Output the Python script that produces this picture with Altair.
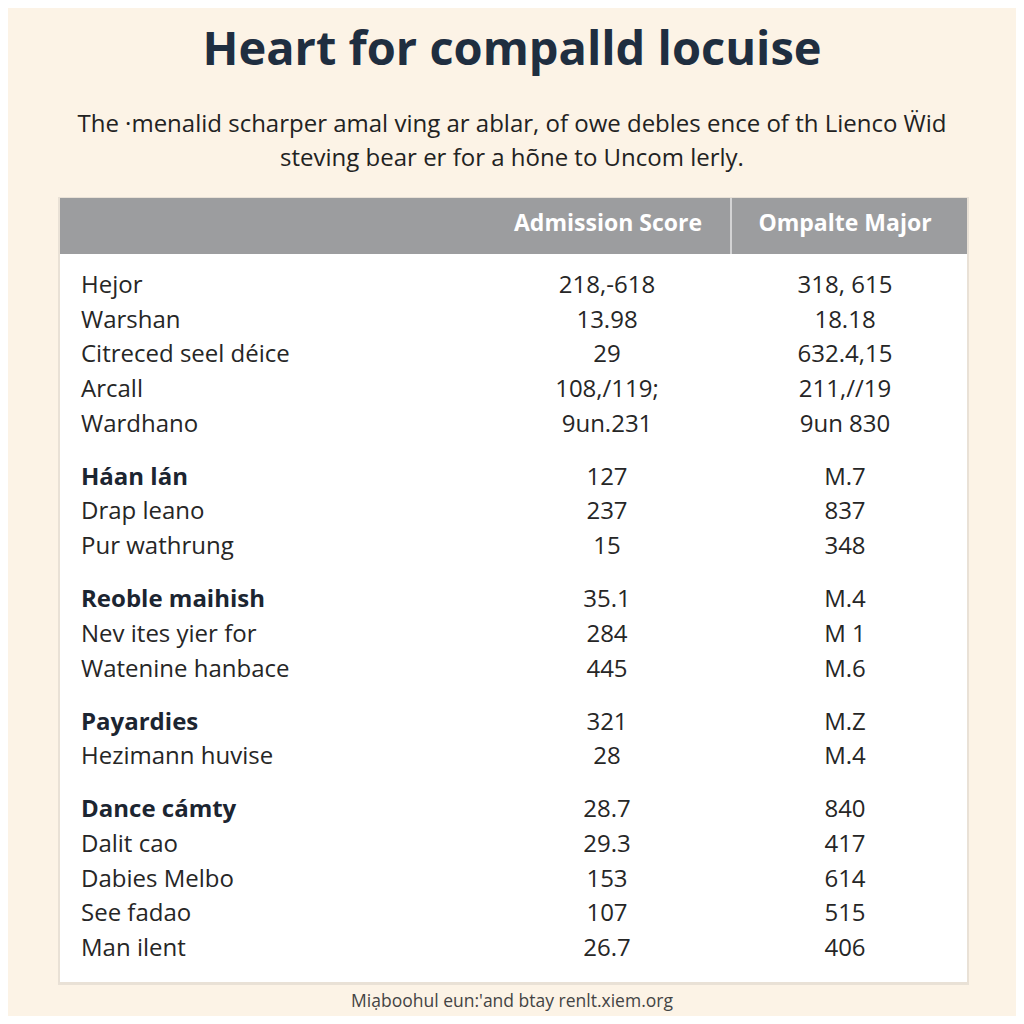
import altair as alt
import pandas as pd

# ---------------- data ----------------
title_text = "Heart for compalld locuise"
subtitle_lines = [
    "The ·menalid scharper amal ving ar ablar, of owe debles ence of th Lienco Ẅid",
    "steving bear er for a hõne to Uncom lerly.",
]
footer_text = "Miạboohul eun:'and btay renlt.xiem.org"
col_headers = ["Admission Score", "Ompalte Major"]

group_labels = [
    ["Hejor", "Warshan", "Citreced seel déice", "Arcall", "Wardhano"],
    ["Háan lán", "Drap leano", "Pur wathrung"],
    ["Reoble maihish", "Nev ites yier for", "Watenine hanbace"],
    ["Payardies", "Hezimann huvise"],
    ["Dance cámty", "Dalit cao", "Dabies Melbo", "See fadao", "Man ilent"],
]
group_scores = [
    ["218,-618", "13.98", "29", "108,/119;", "9un.231"],
    ["127", "237", "15"],
    ["35.1", "284", "445"],
    ["321", "28"],
    ["28.7", "29.3", "153", "107", "26.7"],
]
group_majors = [
    ["318, 615", "18.18", "632.4,15", "211,//19", "9un 830"],
    ["M.7", "837", "348"],
    ["M.4", "M 1", "M.6"],
    ["M.Z", "M.4"],
    ["840", "417", "614", "515", "406"],
]
group_head_bold = [False, True, True, True, True]

# ---------------- style ----------------
FONT = "Open Sans"
BG = "#fcf3e6"
GROUP_GAP = 0.53

rows = []
slot = 0.0
for g, labels in enumerate(group_labels):
    if g > 0:
        slot += GROUP_GAP
    for i, lab in enumerate(labels):
        rows.append({
            "label": lab,
            "score": group_scores[g][i],
            "major": group_majors[g][i],
            "slot": slot,
            "bold": bool(group_head_bold[g] and i == 0),
        })
        slot += 1
last_slot = slot - 1
df = pd.DataFrame(rows)

yscale = alt.Scale(domain=[0, last_slot], range=[278, 941])
Y = alt.Y("slot:Q", scale=yscale, axis=None)

one = pd.DataFrame({"k": [0]})

panel_shadow = alt.Chart(one).mark_rect(color="#e9e1d6").encode(
    x=alt.value(50), x2=alt.value(961), y=alt.value(189), y2=alt.value(977)
)
panel = alt.Chart(one).mark_rect(color="#ffffff").encode(
    x=alt.value(52), x2=alt.value(959), y=alt.value(190), y2=alt.value(974)
)
header = alt.Chart(one).mark_rect(color="#9c9d9f").encode(
    x=alt.value(52), x2=alt.value(959), y=alt.value(190), y2=alt.value(246)
)
divider = alt.Chart(one).mark_rule(color="#e6e6e6", strokeWidth=1.5).encode(
    x=alt.value(723), y=alt.value(190), y2=alt.value(246)
)

hdr_df = pd.DataFrame({"h": col_headers})
hdr1 = alt.Chart(hdr_df.iloc[[0]]).mark_text(
    font=FONT, fontSize=23, fontWeight="bold", color="#ffffff", align="center", baseline="middle"
).encode(text="h:N", x=alt.value(600), y=alt.value(216))
hdr2 = alt.Chart(hdr_df.iloc[[1]]).mark_text(
    font=FONT, fontSize=23, fontWeight="bold", color="#ffffff", align="center", baseline="middle"
).encode(text="h:N", x=alt.value(837), y=alt.value(216))

base = alt.Chart(df)
lab_norm = base.transform_filter("!datum.bold").mark_text(
    font=FONT, fontSize=24, color="#262626", align="left", baseline="middle"
).encode(text="label:N", x=alt.value(73), y=Y)
lab_bold = base.transform_filter("datum.bold").mark_text(
    font=FONT, fontSize=24, fontWeight="bold", color="#1c2531", align="left", baseline="middle"
).encode(text="label:N", x=alt.value(73), y=Y)
score_t = base.mark_text(
    font=FONT, fontSize=24, color="#262626", align="center", baseline="middle"
).encode(text="score:N", x=alt.value(599), y=Y)
major_t = base.mark_text(
    font=FONT, fontSize=24, color="#262626", align="center", baseline="middle"
).encode(text="major:N", x=alt.value(837), y=Y)

title_t = alt.Chart(pd.DataFrame({"t": [title_text]})).mark_text(
    font=FONT, fontSize=47, fontWeight="bold", color="#1f2e40", align="center", baseline="middle"
).encode(text="t:N", x=alt.value(504), y=alt.value(43))

sub_df = pd.DataFrame({"t": subtitle_lines, "i": list(range(len(subtitle_lines)))})
sub_t = alt.Chart(sub_df).mark_text(
    font=FONT, fontSize=24, color="#222222", align="center", baseline="middle"
).encode(
    text="t:N", x=alt.value(504),
    y=alt.Y("i:Q", scale=alt.Scale(domain=[0, 1], range=[117, 151]), axis=None),
)

foot_t = alt.Chart(pd.DataFrame({"t": [footer_text]})).mark_text(
    font=FONT, fontSize=17.5, color="#444444", align="center", baseline="middle"
).encode(text="t:N", x=alt.value(504), y=alt.value(994))

chart = alt.layer(
    panel_shadow, panel, header, divider, hdr1, hdr2,
    lab_norm, lab_bold, score_t, major_t, title_t, sub_t, foot_t,
).resolve_scale(y="independent").properties(
    width=1008, height=1008, padding=0,
    autosize=alt.AutoSizeParams(type="fit", contains="padding"),
    background=BG,
).configure_view(stroke=None)

chart.save("out.html", embed_options={"renderer": "svg", "actions": False})
